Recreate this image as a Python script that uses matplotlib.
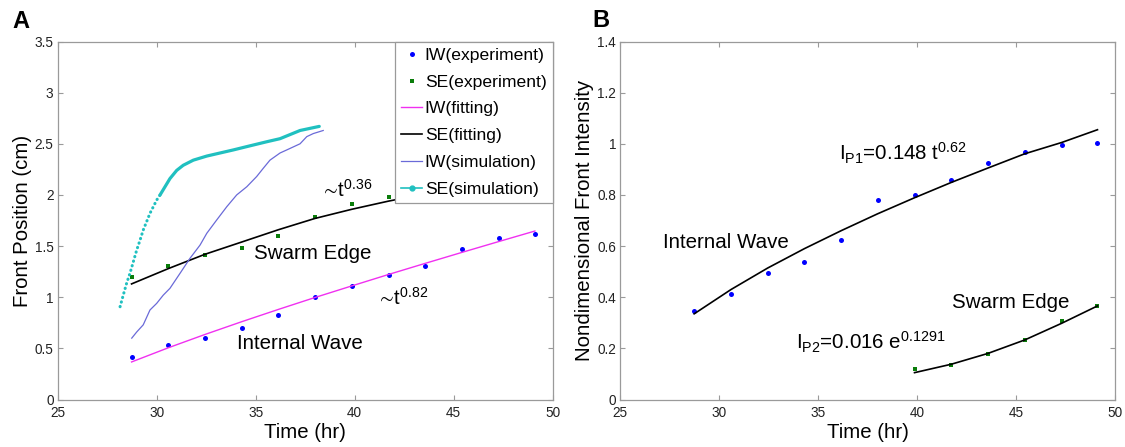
import matplotlib
matplotlib.use("Agg")
import matplotlib.pyplot as plt
from matplotlib.lines import Line2D
from matplotlib.ticker import FormatStrFormatter

plt.rcParams['font.family'] = ['Liberation Sans', 'DejaVu Sans']
plt.rcParams['mathtext.fontset'] = 'custom'
plt.rcParams['mathtext.rm'] = 'Liberation Sans'
plt.rcParams['mathtext.it'] = 'Liberation Sans:italic'
plt.rcParams['mathtext.fallback'] = 'stixsans'

# experiment times (hr)
times = [28.73, 30.59, 32.44, 34.30, 36.15, 37.99, 39.86, 41.72, 43.56, 45.43, 47.29, 49.10]

# panel A: front position (cm)
iw_pos = [0.42, 0.53, 0.60, 0.70, 0.83, 1.00, 1.11, 1.22, 1.31, 1.47, 1.58, 1.62]
se_pos = [1.195, 1.31, 1.41, 1.48, 1.60, 1.785, 1.91, 1.98]
iw_pos_fit = [0.367, 0.506, 0.636, 0.761, 0.881, 0.997, 1.111, 1.223, 1.331, 1.439, 1.545, 1.647]
se_fit_t = [28.73, 30.59, 32.44, 34.30, 36.15, 37.99, 39.86, 41.72, 43.56]
se_pos_fit = [1.13, 1.28, 1.42, 1.54, 1.66, 1.77, 1.86, 1.94, 2.01]

iw_sim_t = [28.74, 28.99, 29.32, 29.66, 30.00, 30.33, 30.67, 31.18, 31.68, 32.19, 32.53,
            33.03, 33.54, 34.04, 34.55, 35.05, 35.38, 35.72, 36.23, 36.57, 37.24, 37.58,
            37.91, 38.41]
iw_sim = [0.60, 0.66, 0.73, 0.875, 0.94, 1.02, 1.087, 1.234, 1.38, 1.51, 1.625,
          1.755, 1.885, 2.00, 2.08, 2.18, 2.26, 2.34, 2.41, 2.44, 2.50, 2.57,
          2.60, 2.63]

se_sim_t = [28.15, 28.31, 28.48, 28.65, 28.82, 28.99, 29.16, 29.32, 29.49, 29.66, 29.83,
            30.00, 30.17, 30.42, 30.67, 31.01, 31.34, 31.85, 32.53, 33.20, 33.87, 34.71,
            35.56, 36.23, 37.24, 38.21]
se_sim = [0.907, 1.02, 1.136, 1.234, 1.347, 1.461, 1.559, 1.657, 1.738, 1.82, 1.885,
          1.95, 2.00, 2.08, 2.16, 2.24, 2.29, 2.34, 2.38, 2.41, 2.44, 2.48,
          2.52, 2.55, 2.63, 2.67]

# panel B: nondimensional front intensity
iw_int = [0.346, 0.414, 0.496, 0.538, 0.624, 0.779, 0.800, 0.857, 0.926, 0.966, 0.995, 1.003]
iw_int_fit = [0.335, 0.430, 0.514, 0.590, 0.660, 0.726, 0.789, 0.849, 0.905, 0.961, 1.005, 1.055]
se_int_t = [39.86, 41.72, 43.56, 45.43, 47.29, 49.10]
se_int = [0.120, 0.136, 0.178, 0.234, 0.307, 0.366]
se_int_fit = [0.105, 0.138, 0.180, 0.233, 0.298, 0.366]

blue = '#0000ff'
green = '#0a7d0a'
magenta = '#f030f0'
purple = '#6a6ad8'
cyan = '#20c0c0'
grey = '#9a9a9a'

fig = plt.figure(figsize=(11.25, 4.47), dpi=100)
axA = fig.add_axes([57.7 / 1125, 47.5 / 447, 495 / 1125, 358 / 447])
axB = fig.add_axes([620.3 / 1125, 47.5 / 447, 495 / 1125, 358 / 447])


def style(ax):
    for s in ax.spines.values():
        s.set_color(grey)
        s.set_linewidth(0.9)
    ax.tick_params(direction='in', length=3.6, width=0.8, color=grey,
                   labelsize=9.8, labelcolor='#222222', top=True, right=True)
    ax.tick_params(axis='x', pad=5)
    ax.tick_params(axis='y', pad=3)
    ax.set_xlim(25, 50)
    ax.set_xticks([25, 30, 35, 40, 45, 50])
    ax.yaxis.set_major_formatter(FormatStrFormatter('%g'))
    ax.set_xlabel('Time (hr)', fontsize=14.7, labelpad=2)


# ---- panel A ----
ax = axA
style(ax)
ax.set_ylim(0, 3.5)
ax.set_yticks([0, 0.5, 1, 1.5, 2, 2.5, 3, 3.5])
ax.set_ylabel('Front Position (cm)', fontsize=14.7, labelpad=2)

h1, = ax.plot(times, iw_pos, 'o', color=blue, ms=3.6, mew=0, label='IW(experiment)')
h2, = ax.plot(times[:len(se_pos)], se_pos, 's', color=green, ms=2.8, mew=0, label='SE(experiment)')
h3, = ax.plot(times, iw_pos_fit, '-', color=magenta, lw=1.0, label='IW(fitting)')
h4, = ax.plot(se_fit_t, se_pos_fit, '-', color='k', lw=1.2, label='SE(fitting)')
h5, = ax.plot(iw_sim_t, iw_sim, '-', color=purple, lw=0.9, label='IW(simulation)')
ax.plot(se_sim_t[:13], se_sim[:13], color=cyan, lw=2.2, linestyle=(0, (0.1, 1.45)),
        dash_capstyle='round')
ax.plot(se_sim_t[12:], se_sim[12:], '-', color=cyan, lw=2.3, solid_capstyle='round')
h6 = Line2D([], [], color=cyan, lw=1.2, marker='.', ms=7, label='SE(simulation)')

leg = ax.legend(handles=[h1, h2, h3, h4, h5, h6], loc='upper right', fontsize=12.6,
                frameon=True, fancybox=False, framealpha=1, edgecolor=grey,
                borderaxespad=0, borderpad=0.35, labelspacing=0.66,
                handlelength=1.2, handletextpad=0.15, markerscale=1.0)
leg.get_frame().set_linewidth(0.9)

ax.text(38.42, 1.98, r'$\!\sim\!$t$^{0.36}$', fontsize=14.5, va='baseline')
ax.text(34.91, 1.374, 'Swarm Edge', fontsize=14.8, va='baseline')
ax.text(41.21, 0.93, r'$\!\sim\!$t$^{0.82}$', fontsize=14.5, va='baseline')
ax.text(34.04, 0.49, 'Internal Wave', fontsize=14.8, va='baseline')

# ---- panel B ----
ax = axB
style(ax)
ax.set_ylim(0, 1.4)
ax.set_yticks([0, 0.2, 0.4, 0.6, 0.8, 1, 1.2, 1.4])
ax.set_ylabel('Nondimensional Front Intensity', fontsize=14.7, labelpad=2)

ax.plot(times, iw_int, 'o', color=blue, ms=3.6, mew=0)
ax.plot(times, iw_int_fit, '-', color='k', lw=1.2)
ax.plot(se_int_t, se_int, 's', color=green, ms=2.8, mew=0)
ax.plot(se_int_t, se_int_fit, '-', color='k', lw=1.2)

ax.text(36.05, 0.936, r'I$_{\mathrm{P1}}$=0.148 t$^{0.62}$', fontsize=14.8, va='baseline')
ax.text(27.18, 0.594, 'Internal Wave', fontsize=14.8, va='baseline')
ax.text(41.73, 0.359, 'Swarm Edge', fontsize=14.8, va='baseline')
ax.text(33.85, 0.196, r'I$_{\mathrm{P2}}$=0.016 e$^{0.1291}$', fontsize=14.8, va='baseline')

fig.text(12 / 1125, 1 - 28 / 447, 'A', fontsize=17, fontweight='bold', va='baseline')
fig.text(592 / 1125, 1 - 27 / 447, 'B', fontsize=17, fontweight='bold', va='baseline')

fig.savefig('out.png', dpi=100)
